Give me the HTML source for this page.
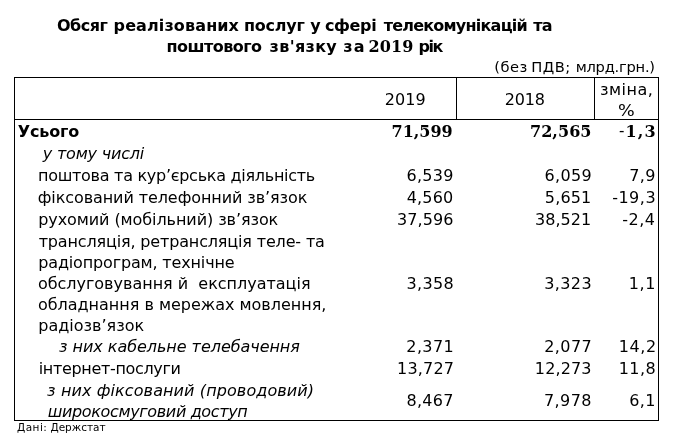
<!DOCTYPE html>
<html lang="uk"><head><meta charset="utf-8"><title>Обсяг реалізованих послуг</title>
<style>
html,body{margin:0;padding:0;background:#fff;}
body{width:679px;height:439px;position:relative;overflow:hidden;font-family:"DejaVu Sans", "Liberation Sans", sans-serif;color:#000;}
.t{position:absolute;white-space:pre;line-height:20px;height:20px;margin:0;padding:0;}
.b{font-weight:bold;}
.i{font-style:italic;}
.sb{font-weight:bold;font-family:"DejaVu Serif", "Liberation Serif", serif;}
.g{position:absolute;left:0;width:679px;height:20px;margin:0;padding:0;}
.ln{position:absolute;background:#000;}
</style></head><body>

<div class="ln" style="left:14px;top:77px;width:645px;height:1px"></div>
<div class="ln" style="left:14px;top:119px;width:645px;height:1px"></div>
<div class="ln" style="left:14px;top:420px;width:645px;height:1px"></div>
<div class="ln" style="left:14px;top:77px;width:1px;height:344px"></div>
<div class="ln" style="left:658px;top:77px;width:1px;height:344px"></div>
<div class="ln" style="left:456px;top:77px;width:1px;height:43px"></div>
<div class="ln" style="left:594px;top:77px;width:1px;height:43px"></div>
<div class="g" style="top:16.00px"><span id="t0" class="t b" style="left:56.92px;top:0.00px;font-size:16px;letter-spacing:-0.470px;">Обсяг</span> 
<span id="t1" class="t b" style="left:113.58px;top:0.00px;font-size:16px;letter-spacing:0.115px;">реалізованих</span> 
<span id="t2" class="t b" style="left:244.00px;top:0.00px;font-size:16px;letter-spacing:-0.225px;">послуг</span> 
<span id="t3" class="t b" style="left:310.36px;top:0.00px;font-size:16px;">у</span> 
<span id="t4" class="t b" style="left:324.96px;top:0.00px;font-size:16px;letter-spacing:-0.372px;">сфері</span> 
<span id="t5" class="t b" style="left:383.66px;top:0.00px;font-size:16px;letter-spacing:-0.773px;">телекомунікацій</span> 
<span id="t6" class="t b" style="left:533.36px;top:0.00px;font-size:16px;letter-spacing:-0.916px;">та</span></div>
<div class="g" style="top:37.00px"><span id="t7" class="t b" style="left:166.38px;top:0.00px;font-size:16px;letter-spacing:-0.509px;">поштового</span> 
<span id="t8" class="t b" style="left:269.52px;top:0.00px;font-size:16px;letter-spacing:0.351px;">зв'язку</span> 
<span id="t9" class="t b" style="left:343.15px;top:0.00px;font-size:16px;letter-spacing:1.432px;">за</span> 
<span id="t10" class="t sb" style="left:368.61px;top:0.00px;font-size:16px;letter-spacing:0.064px;">2019</span> 
<span id="t11" class="t b" style="left:418.42px;top:0.00px;font-size:16px;letter-spacing:-1.434px;">рік</span></div>
<div class="g" style="top:57.00px"><span id="t12" class="t" style="left:494.29px;top:0.00px;font-size:14.67px;letter-spacing:0.451px;">(без</span> 
<span id="t13" class="t" style="left:531.18px;top:0.00px;font-size:14.67px;letter-spacing:0.535px;">ПДВ;</span> 
<span id="t14" class="t" style="left:575.63px;top:0.00px;font-size:14.67px;letter-spacing:-0.227px;">млрд.грн.)</span></div>
<div id="t15" class="t" style="left:384.64px;top:90.00px;font-size:16px;letter-spacing:0.118px;">2019</div>
<div id="t16" class="t" style="left:504.64px;top:90.00px;font-size:16px;letter-spacing:-0.159px;">2018</div>
<div id="t17" class="t" style="left:600.00px;top:80.00px;font-size:16px;letter-spacing:0.510px;">зміна,</div>
<div id="t18" class="t" style="left:617.88px;top:101.00px;font-size:16px;transform:scaleX(1.1);transform-origin:0 0;">%</div>
<div id="t19" class="t b" style="left:17.84px;top:122.00px;font-size:16px;letter-spacing:-0.176px;">Усього</div>
<div id="t20" class="t sb" style="left:391.58px;top:122.00px;font-size:16px;letter-spacing:-0.026px;">71,599</div>
<div id="t21" class="t sb" style="left:530.00px;top:122.00px;font-size:16px;letter-spacing:0.043px;">72,565</div>
<div id="t22" class="t sb" style="left:618.96px;top:122.00px;font-size:16px;letter-spacing:1.153px;"><span style="font-weight:normal;position:relative;top:-1.5px">-</span>1,3</div>
<div id="t23" class="t i" style="left:42.85px;top:144.00px;font-size:16px;letter-spacing:-0.202px;">у тому числі</div>
<div id="t24" class="t" style="left:38.03px;top:166.00px;font-size:16px;letter-spacing:-0.279px;">поштова та кур’єрська діяльність</div>
<div id="t25" class="t" style="left:406.49px;top:166.00px;font-size:16px;letter-spacing:0.303px;">6,539</div>
<div id="t26" class="t" style="left:544.54px;top:166.00px;font-size:16px;letter-spacing:0.362px;">6,059</div>
<div id="t27" class="t" style="left:629.13px;top:166.00px;font-size:16px;letter-spacing:0.467px;">7,9</div>
<div id="t28" class="t" style="left:37.74px;top:188.00px;font-size:16px;letter-spacing:-0.086px;">фіксований телефонний зв’язок</div>
<div id="t29" class="t" style="left:406.73px;top:188.00px;font-size:16px;letter-spacing:0.189px;">4,560</div>
<div id="t30" class="t" style="left:544.86px;top:188.00px;font-size:16px;letter-spacing:0.125px;">5,651</div>
<div id="t31" class="t" style="left:612.15px;top:188.00px;font-size:16px;letter-spacing:0.514px;">-19,3</div>
<div id="t32" class="t" style="left:38.24px;top:210.00px;font-size:16px;letter-spacing:-0.079px;">рухомий (мобільний) зв’язок</div>
<div id="t33" class="t" style="left:397.00px;top:210.00px;font-size:16px;letter-spacing:0.094px;">37,596</div>
<div id="t34" class="t" style="left:535.03px;top:210.00px;font-size:16px;letter-spacing:0.042px;">38,521</div>
<div id="t35" class="t" style="left:622.15px;top:210.00px;font-size:16px;letter-spacing:0.557px;">-2,4</div>
<div id="t36" class="t" style="left:38.70px;top:232.00px;font-size:16px;letter-spacing:-0.156px;">трансляція, ретрансляція теле- та</div>
<div id="t37" class="t" style="left:38.24px;top:253.00px;font-size:16px;letter-spacing:-0.153px;">радіопрограм, технічне</div>
<div id="t38" class="t" style="left:37.88px;top:274.00px;font-size:16px;letter-spacing:-0.014px;">обслуговування й  експлуатація</div>
<div id="t39" class="t" style="left:37.88px;top:295.00px;font-size:16px;letter-spacing:-0.011px;">обладнання в мережах мовлення,</div>
<div id="t40" class="t" style="left:38.24px;top:316.00px;font-size:16px;letter-spacing:0.009px;">радіозв’язок</div>
<div id="t41" class="t" style="left:406.41px;top:274.00px;font-size:16px;letter-spacing:0.367px;">3,358</div>
<div id="t42" class="t" style="left:544.15px;top:274.00px;font-size:16px;letter-spacing:0.428px;">3,323</div>
<div id="t43" class="t" style="left:628.66px;top:274.00px;font-size:16px;letter-spacing:0.606px;">1,1</div>
<div id="t44" class="t i" style="left:59.09px;top:337.00px;font-size:16px;letter-spacing:-0.046px;">з них кабельне телебачення</div>
<div id="t45" class="t" style="left:406.34px;top:337.00px;font-size:16px;letter-spacing:0.369px;">2,371</div>
<div id="t46" class="t" style="left:544.28px;top:337.00px;font-size:16px;letter-spacing:0.416px;">2,077</div>
<div id="t47" class="t" style="left:618.65px;top:337.00px;font-size:16px;letter-spacing:0.622px;">14,2</div>
<div id="t48" class="t" style="left:38.75px;top:359.00px;font-size:16px;letter-spacing:-0.332px;">інтернет-послуги</div>
<div id="t49" class="t" style="left:397.04px;top:359.00px;font-size:16px;letter-spacing:0.198px;">13,727</div>
<div id="t50" class="t" style="left:534.84px;top:359.00px;font-size:16px;letter-spacing:0.146px;">12,273</div>
<div id="t51" class="t" style="left:618.77px;top:359.00px;font-size:16px;letter-spacing:0.408px;">11,8</div>
<div id="t52" class="t i" style="left:47.09px;top:381.00px;font-size:16px;letter-spacing:0.103px;">з них фіксований (проводовий)</div>
<div id="t53" class="t i" style="left:47.66px;top:402.00px;font-size:16px;letter-spacing:-0.352px;">широкосмуговий доступ</div>
<div id="t54" class="t" style="left:406.49px;top:391.00px;font-size:16px;letter-spacing:0.310px;">8,467</div>
<div id="t55" class="t" style="left:544.01px;top:391.00px;font-size:16px;letter-spacing:0.403px;">7,978</div>
<div id="t56" class="t" style="left:629.26px;top:391.00px;font-size:16px;letter-spacing:0.332px;">6,1</div>
<div class="g" style="top:417.00px"><span id="t57" class="t" style="left:17.06px;top:0.00px;font-size:10.5px;letter-spacing:0.456px;">Дані:</span> 
<span id="t58" class="t" style="left:50.49px;top:0.00px;font-size:10.5px;letter-spacing:-0.027px;">Держстат</span></div>
</body></html>
